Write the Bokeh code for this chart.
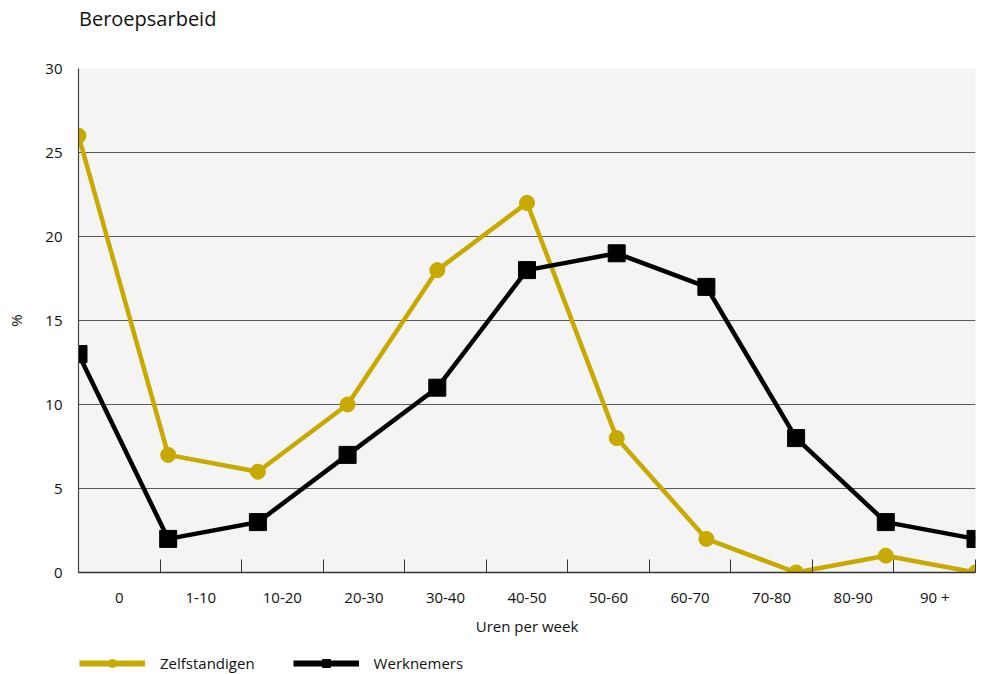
from bokeh.plotting import figure
from bokeh.models import FixedTicker, Legend, LegendItem, Range1d, Div
from bokeh.layouts import column
from bokeh.embed import file_html
from bokeh.resources import INLINE

categories = ["0", "1-10", "10-20", "20-30", "30-40", "40-50", "50-60",
              "60-70", "70-80", "80-90", "90 +"]
zelfstandigen = [26, 7, 6, 10, 18, 22, 8, 2, 0, 1, 0]
werknemers = [13, 2, 3, 7, 11, 18, 19, 17, 8, 3, 2]
y_ticks = [0, 5, 10, 15, 20, 25, 30]

GOLD = "#c8a900"
FONT = "Open Sans"

n = len(categories)
npts = len(zelfstandigen)
xs = [i * n / (npts - 1) for i in range(npts)]

title = Div(text="Beroepsarbeid", width=400, height=44, margin=(6, 0, 0, 79),
            styles={"font-family": FONT, "font-size": "20px",
                    "color": "#111111", "line-height": "26px"})

p = figure(width=980, height=594, output_backend="svg", toolbar_location=None,
           title=None, x_range=Range1d(0, n), y_range=Range1d(0, 30),
           min_border_left=78, min_border_right=5, min_border_top=18,
           min_border_bottom=72, margin=(0, 0, 0, 0))

p.background_fill_color = "#f4f4f4"
p.border_fill_color = "white"
p.outline_line_color = None

# x axis: labels centered in bins, minor ticks on bin boundaries
p.xaxis.ticker = FixedTicker(ticks=[i + 0.5 for i in range(n)],
                             minor_ticks=list(range(n + 1)))
p.xaxis.major_label_overrides = {i + 0.5: c for i, c in enumerate(categories)}
p.xaxis.major_tick_in = 0
p.xaxis.major_tick_out = 0
p.xaxis.minor_tick_in = 13
p.xaxis.minor_tick_out = 0
p.xaxis.minor_tick_line_color = "#333333"
p.xaxis.axis_line_color = "#333333"
p.xaxis.axis_line_width = 1.5
p.xaxis.major_label_standoff = 14
p.xaxis.major_label_text_font = FONT
p.xaxis.major_label_text_font_size = "15px"
p.xaxis.major_label_text_color = "#111111"
p.xaxis.axis_label = "Uren per week"
p.xaxis.axis_label_text_font = FONT
p.xaxis.axis_label_text_font_size = "15px"
p.xaxis.axis_label_text_font_style = "normal"
p.xaxis.axis_label_text_color = "#111111"
p.xaxis.axis_label_standoff = 6

p.yaxis.ticker = FixedTicker(ticks=y_ticks, minor_ticks=[])
p.yaxis.major_tick_in = 0
p.yaxis.major_tick_out = 0
p.yaxis.axis_line_color = "#444444"
p.yaxis.axis_line_width = 1.2
p.yaxis.major_label_standoff = 16
p.yaxis.major_label_text_font = FONT
p.yaxis.major_label_text_font_size = "15px"
p.yaxis.major_label_text_color = "#111111"
p.yaxis.axis_label = "%"
p.yaxis.axis_label_text_font = FONT
p.yaxis.axis_label_text_font_size = "15px"
p.yaxis.axis_label_text_font_style = "normal"
p.yaxis.axis_label_text_color = "#111111"
p.yaxis.axis_label_standoff = 16

p.xgrid.grid_line_color = None
p.ygrid.ticker = FixedTicker(ticks=y_ticks)
p.ygrid.grid_line_color = "#5a5a5a"
p.ygrid.grid_line_width = 1

p.line(xs, zelfstandigen, line_color=GOLD, line_width=4.5)
p.scatter(xs, zelfstandigen, marker="circle", size=15,
          fill_color=GOLD, line_color=GOLD)
p.line(xs, werknemers, line_color="black", line_width=4.5)
p.scatter(xs, werknemers, marker="square", size=17,
          fill_color="black", line_color="black")

# legend strip below the chart (its view range lies outside the data,
# so only the legend is visible)
lf = figure(width=980, height=30, output_backend="svg", toolbar_location=None,
            title=None, x_range=Range1d(-3, -2), y_range=Range1d(-3, -2),
            x_axis_location=None, y_axis_location=None,
            min_border=0, margin=(0, 0, 0, 0))
lf.outline_line_color = None
lf.xgrid.grid_line_color = None
lf.ygrid.grid_line_color = None
lf.background_fill_color = "white"

ez_l = lf.line(xs, zelfstandigen, line_color=GOLD, line_width=6)
ez_s = lf.scatter(xs, zelfstandigen, marker="circle", size=15,
                  fill_color=GOLD, line_color=GOLD)
ew_l = lf.line(xs, werknemers, line_color="black", line_width=6)
ew_s = lf.scatter(xs, werknemers, marker="square", size=17,
                  fill_color="black", line_color="black")

legend = Legend(items=[LegendItem(label="Zelfstandigen", renderers=[ez_l, ez_s]),
                       LegendItem(label="Werknemers", renderers=[ew_l, ew_s])],
                orientation="horizontal", location=(1, 1))
legend.glyph_width = 66
legend.glyph_height = 20
legend.label_height = 18
legend.label_standoff = 15
legend.spacing = 38
legend.padding = 0
legend.margin = 0
legend.border_line_color = None
legend.background_fill_alpha = 0
legend.label_text_font = FONT
legend.label_text_font_size = "15px"
legend.label_text_color = "#111111"
lf.add_layout(legend, "center")

layout = column(title, p, lf, spacing=0)
open("out.html", "w").write(file_html(layout, INLINE))
